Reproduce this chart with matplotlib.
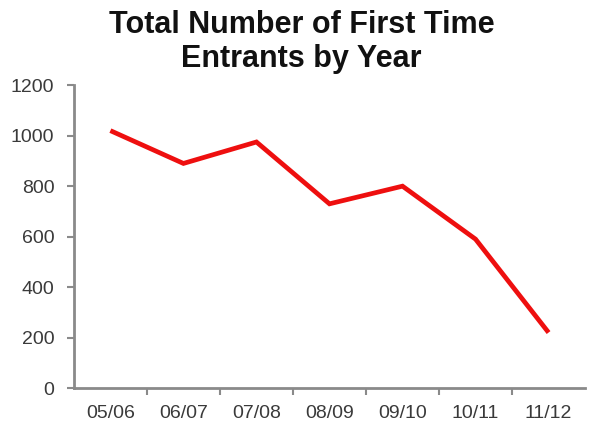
import matplotlib

matplotlib.use("Agg")
import matplotlib.pyplot as plt

plt.rcParams["font.family"] = ["Liberation Sans", "DejaVu Sans"]

# First time entrants per financial year
years = ["05/06", "06/07", "07/08", "08/09", "09/10", "10/11", "11/12"]
entrants = [1020, 890, 975, 730, 800, 590, 220]
y_ticks = [0, 200, 400, 600, 800, 1000, 1200]

_LINE_RED = "#ee0f0f"
_AXIS_GREY = "#8a8a8a"
_TEXT_GREY = "#3a3a3a"

fig = plt.figure(figsize=(5.91, 4.26), dpi=100)
ax = fig.add_axes([0.125, 0.089, 0.865, 0.711])

ax.plot(range(len(years)), entrants, color=_LINE_RED, linewidth=3.4,
        solid_joinstyle="miter", solid_capstyle="butt")

ax.set_xlim(-0.5, len(years) - 0.5)
ax.set_ylim(0, 1200)
ax.set_yticks(y_ticks)
ax.set_yticklabels([str(v) for v in y_ticks])

# category labels sit between boundary ticks, like an Excel category axis
ax.set_xticks([i + 0.5 for i in range(len(years) - 1)])
ax.set_xticklabels([])
ax.set_xticks(range(len(years)), minor=True)
ax.set_xticklabels(years, minor=True)
ax.tick_params(axis="x", which="minor", length=0, pad=12,
               labelsize=14, labelcolor=_TEXT_GREY)
ax.tick_params(axis="x", which="major", length=5, width=1.5,
               color=_AXIS_GREY, direction="out")
ax.tick_params(axis="y", length=5, width=1.5, color=_AXIS_GREY,
               labelsize=14, labelcolor=_TEXT_GREY, pad=9)

for side in ("top", "right"):
    ax.spines[side].set_visible(False)
for side in ("left", "bottom"):
    ax.spines[side].set_color(_AXIS_GREY)
    ax.spines[side].set_linewidth(2)

fig.text(0.51, 0.977, "Total Number of First Time\nEntrants by Year",
         ha="center", va="top", fontsize=22, fontweight="bold",
         color="#111111", linespacing=1.2)

fig.savefig("out.png", dpi=100, facecolor="white")
